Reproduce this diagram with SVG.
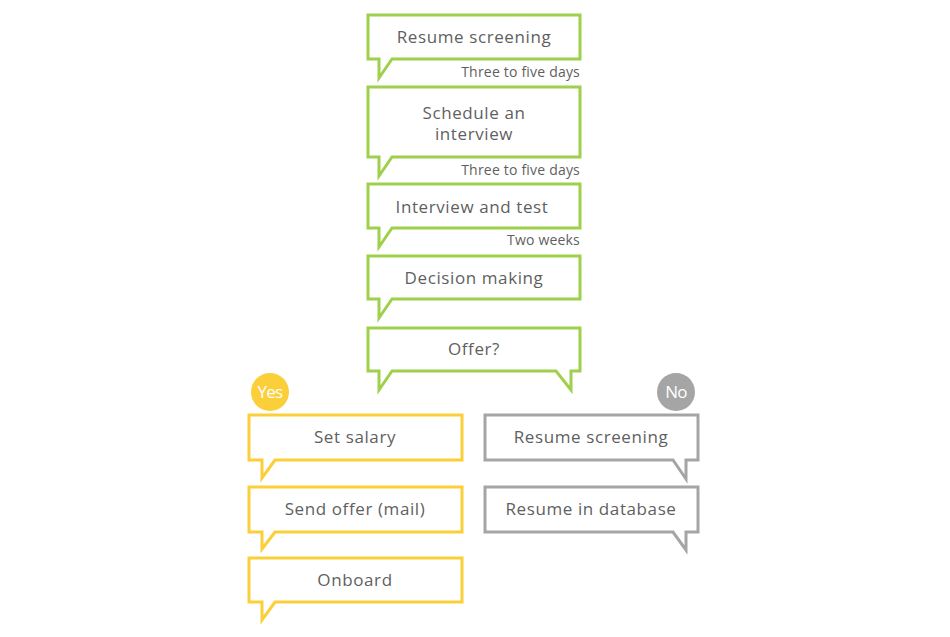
<svg xmlns="http://www.w3.org/2000/svg" width="950" height="637" viewBox="0 0 950 637">
<style>
.b{fill:#fff;stroke-width:3;stroke-linejoin:miter}
.g{stroke:#9fd04b}
.y{stroke:#fbcf3a}
.k{stroke:#a5a5a5}
.t{font-family:"Open Sans","Noto Sans",sans-serif;font-size:17px;fill:#5f5f5f;text-anchor:middle;letter-spacing:0.6px}
.s{font-family:"Open Sans","Noto Sans",sans-serif;font-size:14px;fill:#5f5f5f;text-anchor:end;letter-spacing:0.2px}
.c{font-family:"Open Sans","Noto Sans",sans-serif;font-size:17px;fill:#fff;text-anchor:middle;letter-spacing:-0.7px}
</style>
<rect width="950" height="637" fill="#fff"/>
<g id="n1">
<path class="b g" d="M368 15H580V59H392L379 78V59H368Z"/>
<text class="t" x="474" y="43">Resume screening</text>
<text class="s" x="580" y="77">Three to five days</text>
</g>
<g id="n2">
<path class="b g" d="M368 87H580V157H392L379 176V157H368Z"/>
<text class="t" x="474" y="119">Schedule an</text>
<text class="t" x="474" y="140">interview</text>
<text class="s" x="580" y="175">Three to five days</text>
</g>
<g id="n3">
<path class="b g" d="M368 184H580V228H392L379 247V228H368Z"/>
<text class="t" x="472" y="213">Interview and test</text>
<text class="s" x="580" y="245">Two weeks</text>
</g>
<g id="n4">
<path class="b g" d="M368 256H580V299H392L379 318V299H368Z"/>
<text class="t" x="474" y="284">Decision making</text>
</g>
<g id="n5">
<path class="b g" d="M368 328H580V371H571V390L556 371H392L379 390V371H368Z"/>
<text class="t" x="474" y="355">Offer?</text>
</g>
<g id="yes">
<circle cx="270" cy="392" r="19" fill="#fbcf3a"/>
<text class="c" x="270" y="398">Yes</text>
</g>
<g id="y1">
<path class="b y" d="M249 415H462V460H275L262 478V460H249Z"/>
<text class="t" x="355" y="443">Set salary</text>
</g>
<g id="y2">
<path class="b y" d="M249 487H462V532H275L262 549V532H249Z"/>
<text class="t" x="355" y="515">Send offer (mail)</text>
</g>
<g id="y3">
<path class="b y" d="M249 558H462V602H275L262 620V602H249Z"/>
<text class="t" x="355" y="586">Onboard</text>
</g>
<g id="no">
<circle cx="676" cy="392" r="19" fill="#a5a5a5"/>
<text class="c" x="676" y="398">No</text>
</g>
<g id="k1">
<path class="b k" d="M485 415H698V460H686V479L673 460H485Z"/>
<text class="t" x="591" y="443">Resume screening</text>
</g>
<g id="k2">
<path class="b k" d="M485 487H698V532H686V550L673 532H485Z"/>
<text class="t" x="591" y="515">Resume in database</text>
</g>
</svg>
